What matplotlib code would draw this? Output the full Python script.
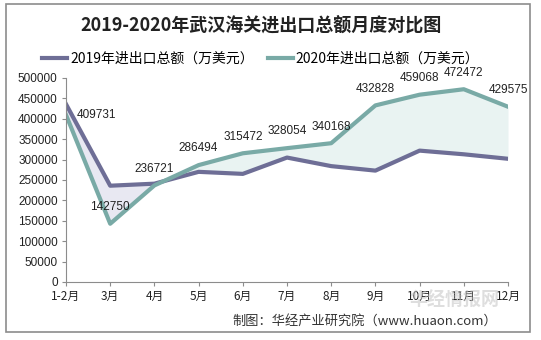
import matplotlib.pyplot as plt
import numpy as np
from matplotlib.patches import Rectangle

plt.rcParams['font.family'] = ['Noto Sans CJK SC', 'DejaVu Sans']

months = ['1-2月', '3月', '4月', '5月', '6月', '7月', '8月', '9月', '10月', '11月', '12月']
total_2019 = [436000, 236000, 241000, 270000, 265000, 305000, 284000, 273000, 322000, 313000, 302000]
total_2020 = [409731, 142750, 236721, 286494, 315472, 328054, 340168, 432828, 459068, 472472, 429575]
yticks = [0, 50000, 100000, 150000, 200000, 250000, 300000, 350000, 400000, 450000, 500000]

c19 = '#6e6e96'
c20 = '#79aaa6'
num_font = ['Liberation Sans', 'DejaVu Sans']

fig = plt.figure(figsize=(5.41, 3.40), dpi=100)
fig.patches.append(Rectangle((6 / 541, 8 / 340), 524 / 541, 328 / 340, transform=fig.transFigure,
                             fill=False, edgecolor='#8c8c8c', linewidth=1.2))

ax = fig.add_axes([66 / 541, 1 - 282 / 340, 442 / 541, 204 / 340])
x = np.arange(len(months))
a = np.array(total_2019)
b = np.array(total_2020)

ax.fill_between(x, a, b, where=a >= b, interpolate=True, color='#e8e8f2', linewidth=0)
ax.fill_between(x, a, b, where=b >= a, interpolate=True, color='#e9f3f2', linewidth=0)
ax.plot(x, a, color=c19, linewidth=3, label='2019年进出口总额（万美元）')
ax.plot(x, b, color=c20, linewidth=3, label='2020年进出口总额（万美元）')

for i, v in enumerate(total_2020):
    if i == 0:
        off = (22, 0)
    else:
        off = (0, 12)
    ax.annotate(str(v), (x[i], v), xytext=off, textcoords='offset points',
                ha='center', va='center', fontsize=8.5, family=num_font, color='#222222')

ax.set_xlim(0, len(months) - 1)
ax.set_ylim(0, 500000)
ax.set_yticks(yticks)
ax.set_yticklabels([str(t) for t in yticks], fontsize=8.5, family=num_font)
ax.set_xticks(x)
ax.set_xticklabels(months, fontsize=8.5)
for s in ['top', 'right']:
    ax.spines[s].set_visible(False)
for s in ['left', 'bottom']:
    ax.spines[s].set_color('#8c8c8c')
ax.tick_params(axis='both', colors='#8c8c8c', labelcolor='#222222', length=3, width=0.8)
ax.tick_params(axis='x', pad=3)
ax.tick_params(axis='y', pad=3)

fig.text(0.483, 1 - 26 / 340, '2019-2020年武汉海关进出口总额月度对比图', ha='center', va='center',
         fontsize=13, fontweight='bold', color='#222222')
fig.legend(loc='center', bbox_to_anchor=(0.482, 1 - 59 / 340), ncol=2, frameon=False,
           fontsize=10, handlelength=1.8, handletextpad=0.2, columnspacing=1.0)

fig.text(497 / 541, 1 - 321 / 340, '制图：华经产业研究院（www.huaon.com）', ha='right', va='center',
         fontsize=9.5, color='#333333')
fig.text(500 / 541, 1 - 300 / 340, '华经情报网', ha='right', va='center',
         fontsize=13, fontweight='bold', color='#c4c4c4', alpha=0.55)

fig.savefig('out.png', dpi=100)
